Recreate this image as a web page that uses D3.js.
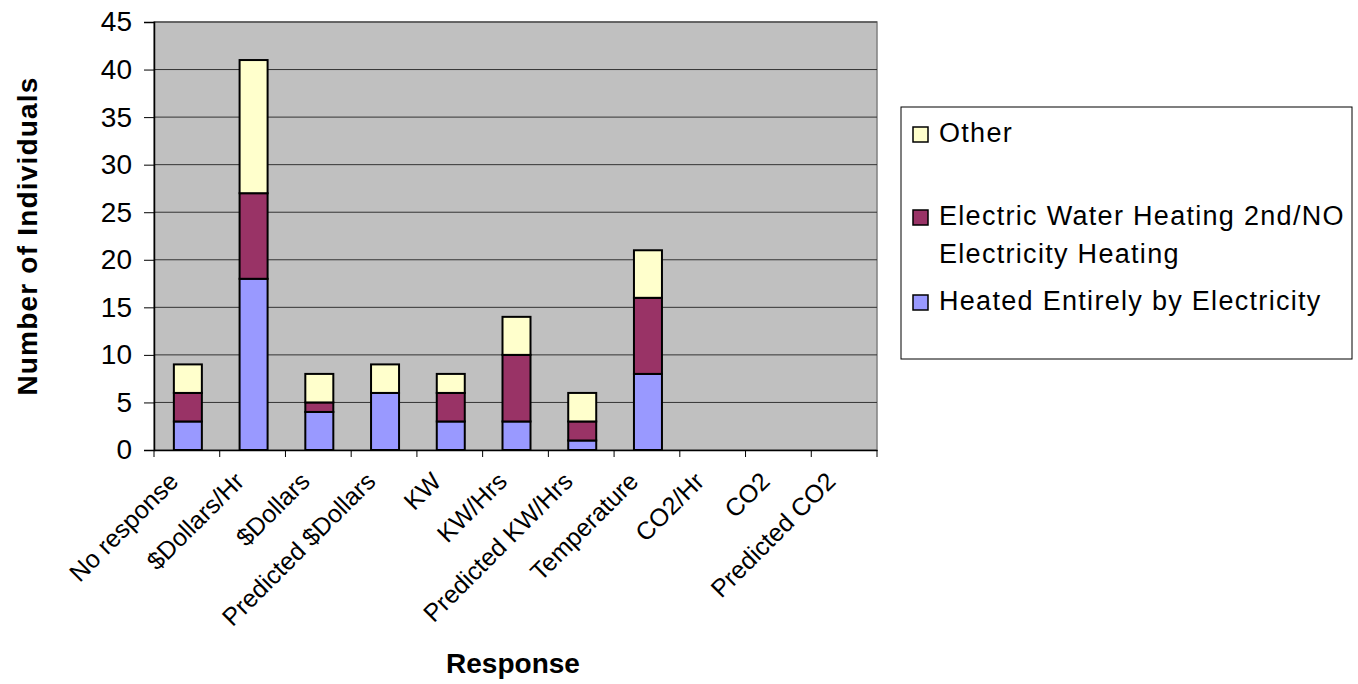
<!DOCTYPE html>
<html><head><meta charset="utf-8">
<script src="https://cdn.jsdelivr.net/npm/d3@7"></script>
<style>body{margin:0;background:#fff;}svg{display:block;font-family:"Liberation Sans",Arial,sans-serif;}</style>
</head><body><svg id="c" width="1358" height="684"></svg>
<script>
const categories = ["No response","$Dollars/Hr","$Dollars","Predicted $Dollars","KW","KW/Hrs","Predicted KW/Hrs","Temperature","CO2/Hr","CO2","Predicted CO2"];
const heatedEntirely = [3,18,4,6,3,3,1,8,0,0,0];
const electricWater = [3,9,1,0,3,7,2,8,0,0,0];
const other = [3,14,3,3,2,4,3,5,0,0,0];
const yTicks = [0,5,10,15,20,25,30,35,40,45];
const seriesNames = ["Heated Entirely by Electricity","Electric Water Heating 2nd/NO Electricity Heating","Other"];
const colors = ["#9999FF","#993366","#FFFFCC"];

const svg = d3.select("#c");
const L=154, R=877, T=22, B=450;
const x = d3.scaleBand().domain(categories).range([L,R]).paddingInner(0).paddingOuter(0);
const y = d3.scaleLinear().domain([0,45]).range([B,T]);

svg.append("rect").attr("x",L).attr("y",T).attr("width",R-L).attr("height",B-T).attr("fill","#C0C0C0").attr("stroke","#808080").attr("stroke-width",1.5);
svg.append("g").selectAll("line").data(yTicks.filter(d=>d>0)).join("line")
  .attr("x1",L).attr("x2",R).attr("y1",d=>y(d)).attr("y2",d=>y(d)).attr("stroke","#333").attr("stroke-width",1);

const rows = categories.map((c,i)=>({cat:c, s0:heatedEntirely[i], s1:electricWater[i], s2:other[i]}));
const stack = d3.stack().keys(["s0","s1","s2"])(rows);
const bw = 28;
stack.forEach((layer,k)=>{
  svg.append("g").selectAll("rect").data(layer.filter(d=>d[1]-d[0]>0)).join("rect")
    .attr("x",d=>x(d.data.cat)+x.bandwidth()/2-bw/2+1)
    .attr("width",bw)
    .attr("y",d=>y(d[1]))
    .attr("height",d=>y(d[0])-y(d[1]))
    .attr("fill",colors[k]).attr("stroke","#000").attr("stroke-width",2);
});

// axes
const ya = svg.append("g").attr("transform",`translate(${L},0)`)
  .call(d3.axisLeft(y).tickValues(yTicks).tickSize(10).tickPadding(12).tickFormat(d3.format("d")));
ya.select(".domain").attr("stroke","#000").attr("stroke-width",1.5);
ya.selectAll(".tick line").attr("stroke","#000");
ya.selectAll("text").attr("font-size",28).attr("fill","#000").attr("font-family","Liberation Sans, Arial, sans-serif");

const xa = svg.append("g").attr("transform",`translate(0,${B})`)
  .call(d3.axisBottom(x).tickSize(0).tickFormat(""));
xa.select(".domain").attr("stroke","#000").attr("stroke-width",1.5);
svg.append("g").selectAll("line").data(d3.range(categories.length+1)).join("line")
  .attr("x1",i=>L+i*x.step()).attr("x2",i=>L+i*x.step()).attr("y1",B).attr("y2",B+7).attr("stroke","#000");
svg.append("g").selectAll("text").data(categories).join("text")
  .attr("transform",d=>`translate(${x(d)+x.bandwidth()/2-7},${B+33}) rotate(-45)`)
  .attr("text-anchor","end").attr("font-size",25).attr("fill","#000").text(d=>d);

svg.append("text").attr("transform","translate(37,236) rotate(-90)").attr("text-anchor","middle")
  .attr("font-size",28).attr("letter-spacing",1.2).attr("font-weight","bold").text("Number of Individuals");
svg.append("text").attr("x",513).attr("y",673).attr("text-anchor","middle")
  .attr("font-size",28).attr("font-weight","bold").text("Response");

// legend
const lg = svg.append("g");
lg.append("rect").attr("x",901).attr("y",107).attr("width",451).attr("height",252).attr("fill","#fff").attr("stroke","#000").attr("stroke-width",1);
const legendItems = [
  {k:2, lines:["Other"], y:142},
  {k:1, lines:["Electric Water Heating 2nd/NO","Electricity Heating"], y:225},
  {k:0, lines:["Heated Entirely by Electricity"], y:310}
];
legendItems.forEach(it=>{
  lg.append("rect").attr("x",913).attr("y",it.y-15).attr("width",15).attr("height",15).attr("fill",colors[it.k]).attr("stroke","#000").attr("stroke-width",1.5);
  it.lines.forEach((t,j)=>{
    lg.append("text").attr("x",939).attr("y",it.y+j*38).attr("font-size",27).attr("letter-spacing",1.3).attr("fill","#000").text(t);
  });
});
</script></body></html>
